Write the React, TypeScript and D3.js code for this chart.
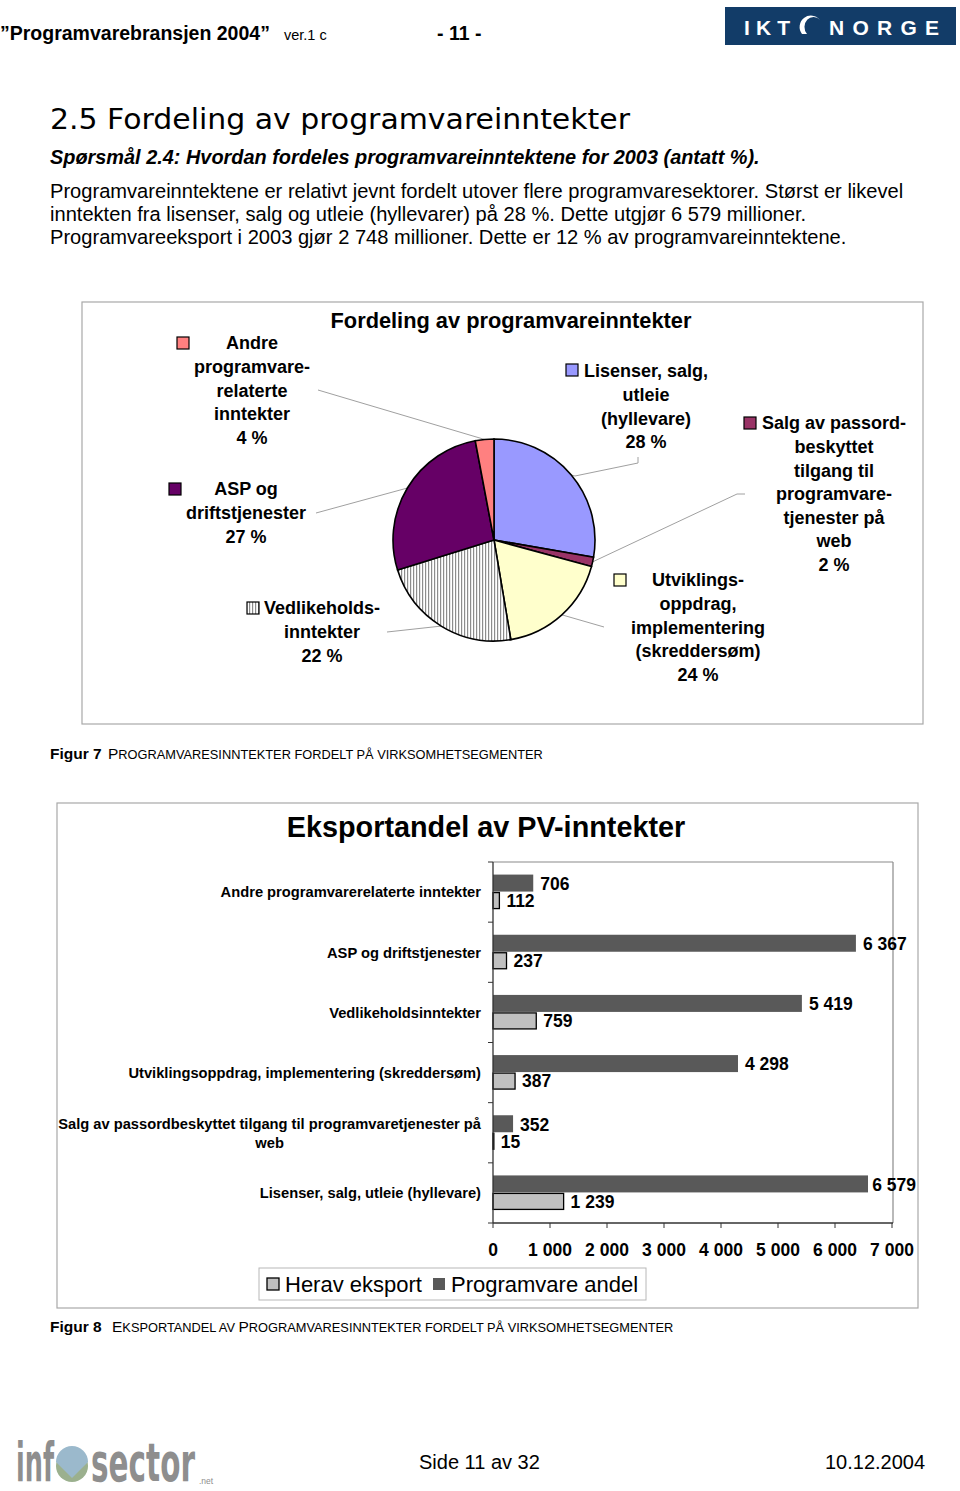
import React from "react";
import * as d3 from "d3";

// ---------- Data ----------
const pieCategories = [
  "Lisenser, salg, utleie (hyllevare)",
  "Salg av passordbeskyttet tilgang til programvaretjenester på web",
  "Utviklingsoppdrag, implementering (skreddersøm)",
  "Vedlikeholdsinntekter",
  "ASP og driftstjenester",
  "Andre programvarerelaterte inntekter",
];
const pieValues = [6579, 352, 4298, 5419, 6367, 706];
const pieLabelLines = [
  ["Lisenser, salg,", "utleie", "(hyllevare)", "28 %"],
  ["Salg av passord-", "beskyttet", "tilgang til", "programvare-", "tjenester på", "web", "2 %"],
  ["Utviklings-", "oppdrag,", "implementering", "(skreddersøm)", "24 %"],
  ["Vedlikeholds-", "inntekter", "22 %"],
  ["ASP og", "driftstjenester", "27 %"],
  ["Andre", "programvare-", "relaterte", "inntekter", "4 %"],
];
const pieColors = ["#9999FF", "#993366", "#FFFFCC", "url(#stripes)", "#660066", "#FF8080"];

const barCategories = [
  ["Andre programvarerelaterte inntekter"],
  ["ASP og driftstjenester"],
  ["Vedlikeholdsinntekter"],
  ["Utviklingsoppdrag, implementering (skreddersøm)"],
  ["Salg av passordbeskyttet tilgang til programvaretjenester på", "web"],
  ["Lisenser, salg, utleie (hyllevare)"],
];
const programvareAndel = [706, 6367, 5419, 4298, 352, 6579];
const heravEksport = [112, 237, 759, 387, 15, 1239];
const xTicks = [0, 1000, 2000, 3000, 4000, 5000, 6000, 7000];
const seriesNames = ["Herav eksport", "Programvare andel"];

// ---------- Layout ----------
const FONT = "'Liberation Sans', Arial, Helvetica, sans-serif";
const NARROW = "'Liberation Sans Narrow', 'DejaVu Sans Condensed', sans-serif";
const W = 960;
const H = 1491;

const fmt = (v: number) => String(v).replace(/\B(?=(\d{3})+(?!\d))/g, " ");

let ctx: CanvasRenderingContext2D | null = null;
function measure(text: string, font: string) {
  if (!ctx) {
    const c = document.createElement("canvas");
    ctx = c.getContext("2d");
  }
  if (!ctx) return text.length * 8;
  ctx.font = font;
  return ctx.measureText(text).width;
}

// pie label layout: [square x, square y, text center x, first line y]
const pieLabelPos: [number, number, number, number][] = [
  [572, 370, 646, 371],
  [750, 423, 834, 423],
  [620, 580, 698, 580],
  [253, 608, 322, 608],
  [175, 489, 246, 489],
  [183, 343, 252, 343],
];
// leader line outer end points (label side)
const leaderEnds: [number, number][][] = [
  [[638, 457], [638, 463], [575, 476]],
  [[745, 494], [737, 494]],
  [[604, 627]],
  [[387, 632]],
  [[316, 513]],
  [[318, 390]],
];

function PieChart() {
  const cx = 494;
  const cy = 540;
  const r = 101;
  const arcs = d3.pie<number>().sort(null).value((d) => d)(pieValues);
  const arcGen = d3.arc<d3.PieArcDatum<number>>().innerRadius(0).outerRadius(r);
  const lh = 23.6;
  return (
    <g>
      <rect x={82} y={302} width={841} height={422} fill="#fff" stroke="#a8a8a8" strokeWidth={1.2} />
      <text x={511} y={328} textAnchor="middle" fontFamily={FONT} fontWeight="bold" fontSize={21.8}>
        Fordeling av programvareinntekter
      </text>
      {arcs.map((a, i) => {
        const mid = (a.startAngle + a.endAngle) / 2;
        const px = cx + r * Math.sin(mid);
        const py = cy - r * Math.cos(mid);
        const pts = [...leaderEnds[i], [px, py]];
        return (
          <polyline
            key={"l" + i}
            points={pts.map((p) => p.join(",")).join(" ")}
            fill="none"
            stroke="#a0a0a0"
            strokeWidth={1}
          />
        );
      })}
      <g transform={`translate(${cx},${cy})`}>
        {arcs.map((a, i) => (
          <path key={i} d={arcGen(a) || ""} fill={pieColors[i]} stroke="#000" strokeWidth={1.6} />
        ))}
      </g>
      {pieLabelLines.map((lines, i) => {
        const [sx, sy, tx, ty] = pieLabelPos[i];
        return (
          <g key={"t" + i}>
            <rect x={sx - 6} y={sy - 6} width={12} height={12} fill={pieColors[i]} stroke="#000" strokeWidth={1.2} />
            {lines.map((ln, j) => (
              <text
                key={j}
                x={tx}
                y={ty + j * lh}
                dy="0.36em"
                textAnchor="middle"
                fontFamily={FONT}
                fontWeight="bold"
                fontSize={18}
              >
                {ln}
              </text>
            ))}
          </g>
        );
      })}
    </g>
  );
}

function BarChart() {
  const left = 493;
  const right = 893;
  const top = 862;
  const bottom = 1223;
  const x = d3.scaleLinear().domain([0, 7000]).range([left, right - 1]);
  const y = d3.scaleBand<number>().domain(barCategories.map((_, i) => i)).range([top, bottom]);
  const barH = 17;
  const labelFont = `bold 17.5px ${FONT}`;
  const catFont = `bold 14.7px ${FONT}`;
  const boxRight = 918;
  const valueLabelX = (end: number, txt: string) => {
    const w = measure(txt, labelFont);
    return Math.min(end + 7, boxRight - 2 - w);
  };
  return (
    <g>
      <rect x={57} y={803} width={861} height={505} fill="#fff" stroke="#a8a8a8" strokeWidth={1.2} />
      <text x={486} y={837} textAnchor="middle" fontFamily={FONT} fontWeight="bold" fontSize={28.8}>
        Eksportandel av PV-inntekter
      </text>
      <line x1={left} x2={right} y1={top} y2={top} stroke="#8a8a8a" strokeWidth={1.2} />
      <line x1={right} x2={right} y1={top} y2={bottom} stroke="#8a8a8a" strokeWidth={1.2} />
      {barCategories.map((_, i) => {
        const c = (y(i) as number) + y.bandwidth() / 2;
        const e1 = x(programvareAndel[i]);
        const e2 = x(heravEksport[i]);
        const t1 = fmt(programvareAndel[i]);
        const t2 = fmt(heravEksport[i]);
        return (
          <g key={i}>
            <rect x={left} y={c - barH - 0.5} width={e1 - left} height={barH} fill="#595959" />
            <rect x={left} y={c + 0.5} width={e2 - left} height={barH - 1} fill="#C0C0C0" stroke="#000" strokeWidth={1.3} />
            <text x={valueLabelX(e1, t1)} y={c - barH / 2} dy="0.36em" fontFamily={FONT} fontWeight="bold" fontSize={17.5}>
              {t1}
            </text>
            <text x={valueLabelX(e2, t2)} y={c + barH / 2} dy="0.36em" fontFamily={FONT} fontWeight="bold" fontSize={17.5}>
              {t2}
            </text>
          </g>
        );
      })}
      <line x1={left} x2={left} y1={top} y2={bottom} stroke="#333" strokeWidth={1.3} />
      <line x1={left} x2={right} y1={bottom} y2={bottom} stroke="#333" strokeWidth={1.3} />
      {barCategories.map((_, i) => (
        <line key={"yt" + i} x1={left - 5} x2={left} y1={y(i) as number} y2={y(i) as number} stroke="#333" strokeWidth={1} />
      ))}
      <line x1={left - 5} x2={left} y1={bottom} y2={bottom} stroke="#333" strokeWidth={1} />
      {xTicks.map((t) => (
        <g key={"xt" + t}>
          <line x1={x(t)} x2={x(t)} y1={bottom} y2={bottom + 5} stroke="#333" strokeWidth={1} />
          <text x={x(t)} y={1250} dy="0.36em" textAnchor="middle" fontFamily={FONT} fontWeight="bold" fontSize={17.5}>
            {fmt(t)}
          </text>
        </g>
      ))}
      {barCategories.map((lines, i) => {
        const c = (y(i) as number) + y.bandwidth() / 2;
        const lh = 19;
        const labelRight = 481;
        if (lines.length === 1) {
          return (
            <text key={"c" + i} x={labelRight} y={c} dy="0.36em" textAnchor="end" fontFamily={FONT} fontWeight="bold" fontSize={14.7}>
              {lines[0]}
            </text>
          );
        }
        const maxW = Math.max(...lines.map((l) => measure(l, catFont)));
        const mx = labelRight - maxW / 2;
        const y0 = c - ((lines.length - 1) * lh) / 2;
        return (
          <g key={"c" + i}>
            {lines.map((l, j) => (
              <text key={j} x={mx} y={y0 + j * lh} dy="0.36em" textAnchor="middle" fontFamily={FONT} fontWeight="bold" fontSize={14.7}>
                {l}
              </text>
            ))}
          </g>
        );
      })}
      <rect x={259} y={1268} width={387} height={32} fill="#fff" stroke="#b8b8b8" strokeWidth={1} />
      <rect x={267} y={1278} width={12} height={12} fill="#C0C0C0" stroke="#000" strokeWidth={1.3} />
      <text x={285} y={1284} dy="0.36em" fontFamily={FONT} fontSize={22}>
        {seriesNames[0]}
      </text>
      <rect x={433} y={1278} width={12} height={12} fill="#595959" />
      <text x={451} y={1284} dy="0.36em" fontFamily={FONT} fontSize={22}>
        {seriesNames[1]}
      </text>
    </g>
  );
}

function SmallCaps({ x, y, text, big, small }: { x: number; y: number; text: string; big: number; small: number }) {
  const parts: { s: string; big: boolean }[] = [];
  for (const ch of text) {
    const isBig = ch !== " " && ch === ch.toUpperCase() && ch !== ch.toLowerCase();
    const last = parts[parts.length - 1];
    if (last && last.big === isBig) last.s += ch;
    else parts.push({ s: ch, big: isBig });
  }
  return (
    <text x={x} y={y} fontFamily={FONT} style={{ whiteSpace: "pre" }}>
      {parts.map((p, i) => (
        <tspan key={i} fontSize={p.big ? big : small}>
          {p.big ? p.s : p.s.toUpperCase()}
        </tspan>
      ))}
    </text>
  );
}

function FooterLogo() {
  const fs = 50;
  const font = `bold ${fs}px ${NARROW}`;
  const wInf = measure("inf", font);
  const wSector = measure("sector", font);
  const sInf = 38 / Math.max(wInf, 1);
  const sSector = 104 / Math.max(wSector, 1);
  return (
    <g>
      <g transform={`translate(16,1481) scale(${sInf},1.05)`}>
        <text x={0} y={0} fontFamily={NARROW} fontWeight="bold" fontSize={fs} fill="#8e8e8e">
          inf
        </text>
      </g>
      <circle cx={72} cy={1466} r={16} fill="#9bb08e" />
      <path d="M 56 1462 A 16 16 0 0 1 88 1462 L 72 1478 Z" fill="#9bb9cc" />
      <g transform={`translate(91,1481) scale(${sSector},1.05)`}>
        <text x={0} y={0} fontFamily={NARROW} fontWeight="bold" fontSize={fs} fill="#8e8e8e">
          sector
        </text>
      </g>
      <text x={199} y={1484} fontFamily={FONT} fontSize={8.5} fill="#8e8e8e">
        .net
      </text>
    </g>
  );
}

export default function App() {
  return (
    <svg
      width={W}
      height={H}
      viewBox={`0 0 ${W} ${H}`}
      style={{ position: "absolute", left: 0, top: 0, background: "#fff" }}
    >
      <defs>
        <pattern id="stripes" width={3} height={4} patternUnits="userSpaceOnUse">
          <rect width={3} height={4} fill="#ffffff" />
          <rect x={0} width={1.2} height={4} fill="#8c8c8c" />
        </pattern>
      </defs>
      <rect width={W} height={H} fill="#fff" />

      {/* Header */}
      <text x={0} y={40} fontFamily={FONT} fontWeight="bold" fontSize={19.5}>
        ”Programvarebransjen 2004”
      </text>
      <text x={284} y={40} fontFamily={FONT} fontSize={14.5}>
        ver.1 c
      </text>
      <text x={437} y={40} fontFamily={FONT} fontWeight="bold" fontSize={19.5}>
        - 11 -
      </text>
      <rect x={725} y={7} width={231} height={38} fill="#123c68" />
      <text x={744} y={35} fontFamily={FONT} fontWeight="bold" fontSize={21} fill="#fff" textLength={46} lengthAdjust="spacing">
        IKT
      </text>
      <path d="M 802 34 A 10 10 0 0 1 820 20 A 9 10 0 0 0 807 34 Z" fill="#fff" />
      <text x={829} y={35} fontFamily={FONT} fontWeight="bold" fontSize={21} fill="#fff" textLength={110} lengthAdjust="spacing">
        NORGE
      </text>

      {/* Heading */}
      <text x={50} y={129} fontFamily="'DejaVu Sans', Verdana, sans-serif" fontSize={28} textLength={580} lengthAdjust="spacingAndGlyphs">
        2.5  Fordeling av programvareinntekter
      </text>
      <text x={50} y={164} fontFamily={FONT} fontWeight="bold" fontStyle="italic" fontSize={19.9}>
        Spørsmål 2.4: Hvordan fordeles programvareinntektene for 2003 (antatt %).
      </text>
      <text x={50} y={198} fontFamily={FONT} fontSize={20.1}>
        Programvareinntektene er relativt jevnt fordelt utover flere programvaresektorer. Størst er likevel
      </text>
      <text x={50} y={221} fontFamily={FONT} fontSize={20.1}>
        inntekten fra lisenser, salg og utleie (hyllevarer) på 28 %. Dette utgjør 6 579 millioner.
      </text>
      <text x={50} y={244} fontFamily={FONT} fontSize={20.1}>
        Programvareeksport i 2003 gjør 2 748 millioner. Dette er 12 % av programvareinntektene.
      </text>

      <PieChart />

      <text x={50} y={759} fontFamily={FONT} fontWeight="bold" fontSize={15.5}>
        Figur 7
      </text>
      <SmallCaps x={108} y={759} text="Programvaresinntekter fordelt på virksomhetsegmenter" big={15.5} small={12.8} />

      <BarChart />

      <text x={50} y={1332} fontFamily={FONT} fontWeight="bold" fontSize={15.5}>
        Figur 8
      </text>
      <SmallCaps x={112} y={1332} text="Eksportandel av Programvaresinntekter fordelt på virksomhetsegmenter" big={15.5} small={12.8} />

      <FooterLogo />
      <text x={419} y={1469} fontFamily={FONT} fontSize={20}>
        Side 11 av 32
      </text>
      <text x={825} y={1469} fontFamily={FONT} fontSize={20}>
        10.12.2004
      </text>
    </svg>
  );
}
